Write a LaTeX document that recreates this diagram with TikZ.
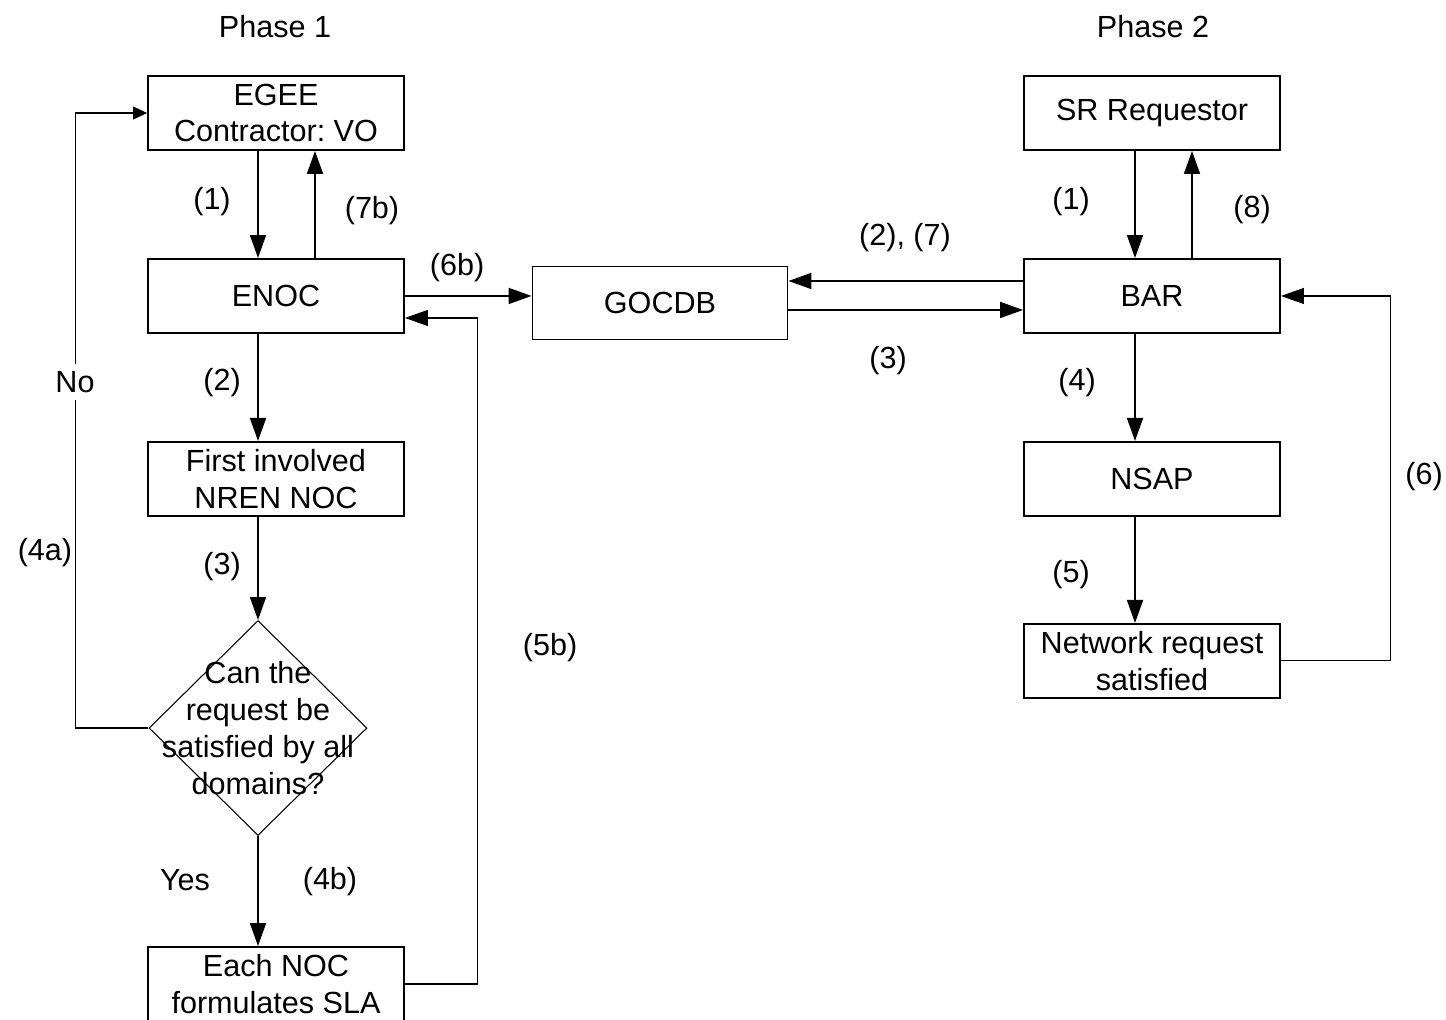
\documentclass[tikz,border=0pt]{standalone}
\usepackage{fontspec}
\setmainfont{Liberation Sans}
\frenchspacing
\usetikzlibrary{shapes.geometric,arrows.meta}

\begin{document}
\begin{tikzpicture}[x=0.02cm, y=-0.02cm, node distance=3.66cm,
    >={Triangle[length=0.46cm, width=0.32cm]},
    box/.style={rectangle, draw, line width=1.1pt, minimum width=5.12cm, minimum height=1.48cm, inner sep=1pt, align=center, font=\fontsize{17.4}{21}\selectfont},
    decision/.style={diamond, draw, line width=0.6pt, minimum width=4.36cm, minimum height=4.3cm, inner sep=-0.7cm, align=center, font=\fontsize{17.4}{21}\selectfont},
    lbl/.style={inner sep=0pt, font=\fontsize{17.4}{21}\selectfont},
    flow/.style={->, line width=1pt},
    back/.style={->, line width=0.6pt}]

\useasboundingbox (0,0) rectangle (1446,1019);

% Phase 1 nodes
\node[lbl] (phase1) at (275,27) {Phase 1};
\node[box] (egee) at (276,113) {EGEE\\Contractor: VO};
\node[box, below of=egee] (enoc) {ENOC};
\node[box, below of=enoc] (first) {First involved\\NREN NOC};
\node[decision] (dia) at (258,728) {Can the\\request be\\satisfied by all\\domains?};
\node[box] (each) at (276,984) {Each NOC\\formulates SLA};

% shared
\node[box, minimum width=5.1cm, minimum height=1.46cm] (gocdb) at (660,303) {GOCDB};

% Phase 2 nodes
\node[lbl] (phase2) at (1153,27) {Phase 2};
\node[box] (sr) at (1152,113) {SR Requestor};
\node[box, below of=sr] (bar) {BAR};
\node[box, below of=bar] (nsap) {NSAP};
\node[box, below of=nsap, node distance=3.64cm] (net) {Network request\\satisfied};

% Arrows phase 1
\draw[flow] ([xshift=-0.36cm]egee.south) -- ([xshift=-0.36cm]enoc.north);
\draw[flow] ([xshift=0.78cm]enoc.north) -- ([xshift=0.78cm]egee.south);
\draw[flow] ([xshift=-0.36cm]enoc.south) -- ([xshift=-0.36cm]first.north);
\draw[flow] ([xshift=-0.36cm]first.south) -- (dia.north);
\draw[flow] (dia.south) -- (dia.south |- each.north);
\draw[back, -{Triangle[length=0.28cm, width=0.26cm]}] (dia.west) -- ++(-73,0) |- (egee.west);
\draw[back] (each.east) -- ++(73,0) |- ([yshift=-0.44cm]enoc.east);
\draw[flow] (enoc.east) -- (enoc.east -| gocdb.west);

% Arrows phase 2
\draw[flow] ([yshift=0.3cm]bar.west) -- ([yshift=0.3cm]bar.west -| gocdb.east);
\draw[flow] ([yshift=-0.28cm]bar.west -| gocdb.east) -- ([yshift=-0.28cm]bar.west);
\draw[flow] ([xshift=-0.34cm]sr.south) -- ([xshift=-0.34cm]bar.north);
\draw[flow] ([xshift=0.8cm]bar.north) -- ([xshift=0.8cm]sr.south);
\draw[flow] ([xshift=-0.34cm]bar.south) -- ([xshift=-0.34cm]nsap.north);
\draw[flow] ([xshift=-0.34cm]nsap.south) -- ([xshift=-0.34cm]net.north);
\draw[back] (net.east) -- ++(110,0) |- (bar.east);

% Labels
\node[lbl] (l1a) at (212,202) {(1)};
\node[lbl] (l7b) at (372,211) {(7b)};
\node[lbl] (l6b) at (457,268) {(6b)};
\node[lbl] (l2a) at (222,383) {(2)};
\node[lbl, fill=white, inner xsep=1pt, inner ysep=4pt] (lno) at (75,382) {No};
\node[lbl] (l3a) at (222,567) {(3)};
\node[lbl] (l4a) at (45,553) {(4a)};
\node[lbl] (lyes) at (185,880) {Yes};
\node[lbl] (l4b) at (330,882) {(4b)};
\node[lbl] (l5b) at (550,648) {(5b)};
\node[lbl] (l27) at (905,238) {(2), (7)};
\node[lbl] (l3b) at (888,361) {(3)};
\node[lbl] (l1b) at (1071,202) {(1)};
\node[lbl] (l8) at (1252,210) {(8)};
\node[lbl] (l4) at (1077,383) {(4)};
\node[lbl] (l5) at (1071,575) {(5)};
\node[lbl] (l6) at (1424,477) {(6)};

\end{tikzpicture}
\end{document}
